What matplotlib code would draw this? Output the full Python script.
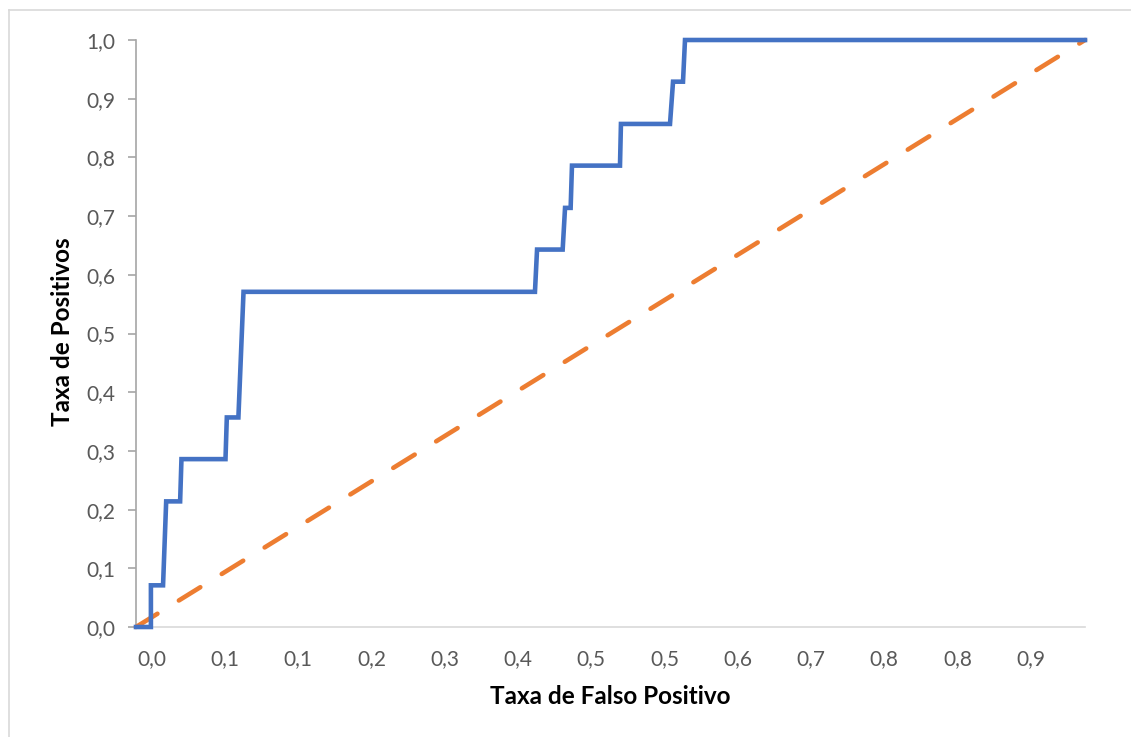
import matplotlib
matplotlib.use("Agg")
import matplotlib.pyplot as plt
from matplotlib.lines import Line2D

# ---- data (x = position along the false-positive axis, 0..1) ----
fpr = [0.0, 0.0157, 0.0157, 0.0285, 0.0318, 0.0465, 0.0479, 0.0943, 0.0957,
       0.1079, 0.1133, 0.4204, 0.4226, 0.4496, 0.4521, 0.4580, 0.4594,
       0.5100, 0.5110, 0.5627, 0.5659, 0.5764, 0.5785, 1.0]
tpr = [0.0, 0.0, 0.071, 0.071, 0.214, 0.214, 0.286, 0.286, 0.357,
       0.357, 0.571, 0.571, 0.643, 0.643, 0.714, 0.714, 0.786,
       0.786, 0.857, 0.857, 0.929, 0.929, 1.0, 1.0]
ref_x = [0.0, 1.0]
ref_y = [0.0, 1.0]

x_tick_labels = ["0,0", "0,1", "0,1", "0,2", "0,3", "0,4", "0,5",
                 "0,5", "0,6", "0,7", "0,8", "0,8", "0,9"]
x_tick_pos = [0.0165 + 0.0772 * i for i in range(len(x_tick_labels))]
y_ticks = [0.0, 0.1, 0.2, 0.3, 0.4, 0.5, 0.6, 0.7, 0.8, 0.9, 1.0]
y_tick_labels = ["0,0", "0,1", "0,2", "0,3", "0,4", "0,5",
                 "0,6", "0,7", "0,8", "0,9", "1,0"]

plt.rcParams['font.family'] = ['Lato', 'DejaVu Sans']

W, H = 1131, 737
fig = plt.figure(figsize=(W / 100, H / 100), dpi=100)
ax = fig.add_axes([136 / W, (H - 627) / H, (1085 - 136) / W, (627 - 40) / H])

ax.plot(ref_x, ref_y, color="#ED7D31", lw=3.3, linestyle=(0, (5.5, 5.5)),
        dash_capstyle="round", zorder=3, clip_on=False)
ax.plot(fpr, tpr, color="#4472C4", lw=3.3, solid_joinstyle="miter",
        zorder=4, clip_on=False)

ax.set_xlim(0, 1)
ax.set_ylim(0, 1)

ax.set_xticks(x_tick_pos)
ax.set_xticklabels(x_tick_labels)
ax.set_yticks(y_ticks)
ax.set_yticklabels(y_tick_labels)

for s in ["top", "right"]:
    ax.spines[s].set_visible(False)
ax.spines["bottom"].set_color("#d9d9d9")
ax.spines["bottom"].set_linewidth(1.2)
ax.spines["left"].set_color("#a6a6a6")
ax.spines["left"].set_linewidth(1.2)

ax.tick_params(axis="x", length=0, pad=16, labelsize=15, labelcolor="#595959")
ax.tick_params(axis="y", length=6, width=1.2, color="#a6a6a6", pad=9,
               labelsize=15, labelcolor="#595959")

fig.text(610 / W, 1 - 697 / H, "Taxa de Falso Positivo", ha="center",
         va="center", fontsize=17.5, fontweight="bold", color="black")
fig.text(62 / W, 1 - 332 / H, "Taxa de Positivos", ha="center",
         va="center", rotation=90, fontsize=17.5, fontweight="bold", color="black")

# chart-area border
fig.add_artist(Line2D([9 / W, 1.0], [1 - 10 / H, 1 - 10 / H],
                      transform=fig.transFigure, color="#d9d9d9", lw=1.2))
fig.add_artist(Line2D([9 / W, 9 / W], [0.0, 1 - 10 / H],
                      transform=fig.transFigure, color="#d9d9d9", lw=1.2))

fig.savefig("out.png", dpi=100, facecolor="white")
